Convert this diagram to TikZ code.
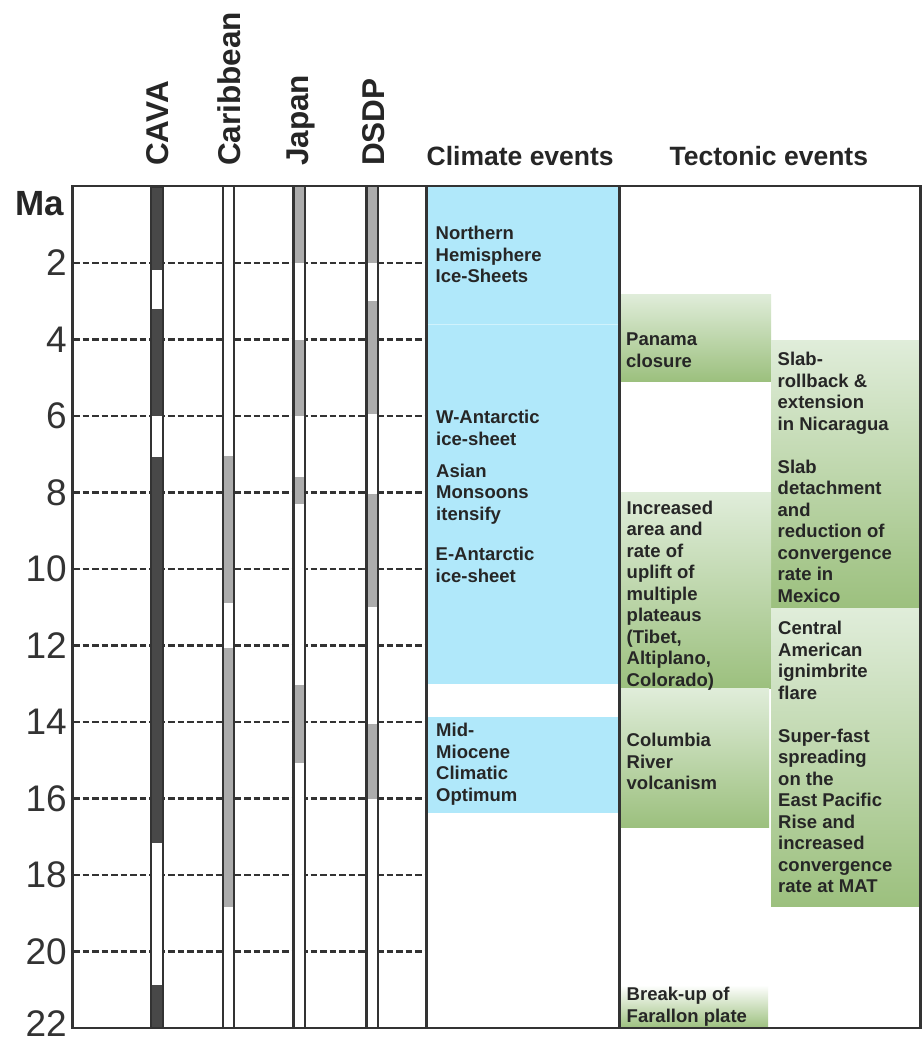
\documentclass[tikz,border=0pt]{standalone}
\usepackage{fontspec}
\setmainfont{Liberation Sans}
\definecolor{framec}{RGB}{51,51,51}
\definecolor{darkbar}{RGB}{72,72,72}
\definecolor{graybar}{RGB}{172,172,172}
\definecolor{climblue}{RGB}{176,232,250}
\definecolor{seamblue}{RGB}{208,242,252}
\definecolor{gtop}{RGB}{224,237,218}
\definecolor{gbot}{RGB}{156,192,126}
\definecolor{txt}{RGB}{38,38,38}
\newcommand\ty[1]{186.5+38.25*(#1)}
\begin{document}
\begin{tikzpicture}[x=1pt,y=-1pt,
  evt/.style={anchor=north west, inner sep=0pt, align=left, text=txt,
    font=\bfseries\fontsize{18.5}{21.5}\selectfont},
  gbox/.style={shading=axis, top color=gtop, bottom color=gbot},
  bluebox/.style={fill=climblue},
  gridline/.style={draw=framec, line width=2.5pt, dash pattern=on 6.5pt off 3pt},
  barline/.style={draw=framec, line width=2.4pt},
  framel/.style={draw=framec, line width=2.6pt},
  agelabel/.style={anchor=east, inner sep=0pt, text=framec, font=\fontsize{37}{40}\selectfont},
  colhead/.style={rotate=90, anchor=base west, inner sep=0pt, text=txt, font=\bfseries\fontsize{31.5}{34}\selectfont},
  tophead/.style={anchor=base west, inner sep=0pt, text=txt, font=\bfseries\fontsize{26.5}{30}\selectfont}]
\useasboundingbox (0,0) rectangle (922,1042);
\fill[white] (0,0) rectangle (922,1042);

% dashed time lines
\foreach \t in {2,4,...,20}
  \draw[gridline] (73,{\ty{\t}}) -- (426,{\ty{\t}});

% climate boxes
\fill[bluebox] (426,186.5) rectangle (620,324);
\fill[bluebox] (426,324) rectangle (620,684);
\draw[seamblue, line width=1pt] (427,324) -- (619,324);
\fill[bluebox] (426,716.5) rectangle (620,813);

% tectonic boxes
\path[gbox] (620,294) rectangle (771,381);
\path[gbox] (771,340) rectangle (921,608);
\path[gbox] (620,492.5) rectangle (771,688);
\path[gbox] (620,688) rectangle (769,827);
\path[gbox] (771,608) rectangle (921,906);
\path[shading=axis, top color=white, bottom color=gbot] (620,985) rectangle (768,1028);

% bars: CAVA
\fill[white] (150,186.5) rectangle (164,1028);
\foreach \a/\b in {0/2.18, 3.2/6, 7.06/17.16, 20.88/22}
  \fill[darkbar] (150,{\ty{\a}}) rectangle (164,{\ty{\b}});
\draw[barline] (151.2,186.5) rectangle (162.8,1028);
% Caribbean
\fill[white] (222,186.5) rectangle (235,1028);
\foreach \a/\b in {7.05/10.9, 12.07/18.83}
  \fill[graybar] (222,{\ty{\a}}) rectangle (235,{\ty{\b}});
\draw[barline] (223.2,186.5) -- (223.2,1028) (233.8,186.5) -- (233.8,1028);
% Japan
\fill[white] (293,186.5) rectangle (306,1028);
\foreach \a/\b in {0/2, 4/6, 7.59/8.3, 13.03/15.06}
  \fill[graybar] (293,{\ty{\a}}) rectangle (306,{\ty{\b}});
\draw[barline] (293.6,186.5) -- (293.6,1028) (304.8,186.5) -- (304.8,1028);
% DSDP
\fill[white] (366,186.5) rectangle (379,1028);
\foreach \a/\b in {0/2, 3/5.95, 8.04/11, 14.05/16}
  \fill[graybar] (366,{\ty{\a}}) rectangle (379,{\ty{\b}});
\draw[barline] (366.6,186.5) -- (366.6,1028) (377.8,186.5) -- (377.8,1028);

% frame
\draw[framel] (72.5,186) rectangle (920.7,1028);
\draw[framel] (426.5,186) -- (426.5,1028);
\draw[framel] (619.5,186) -- (619.5,1028);

% column headings
\node[colhead] (hcava) at (168,166) {CAVA};
\node[colhead] (hcarib) at (240,166) {Caribbean};
\node[colhead] (hjapan) at (308,166) {Japan};
\node[colhead] (hdsdp) at (384,166) {DSDP};
\node[tophead] (hclim) at (426.5,165.7) {Climate events};
\node[tophead] (htect) at (669.5,165.7) {Tectonic events};

% age axis
\node[anchor=base east, inner sep=0pt, text=txt, font=\bfseries\fontsize{35}{38}\selectfont] (ma) at (64.5,215) {Ma};
\foreach \t in {2,4,...,20}
  \node[agelabel] (age\t) at (67,{\ty{\t}}) {\t};
\node[agelabel] (age22) at (67,1023.5) {22};

% climate texts
\node[evt] (nh) at (435.5,226) {Northern\\Hemisphere\\Ice-Sheets};
\node[evt] (wa) at (436,410) {W-Antarctic\\ice-sheet};
\node[evt] (am) at (436,463.5) {Asian\\Monsoons\\itensify};
\node[evt] (ea) at (435.5,547) {E-Antarctic\\ice-sheet};
\node[evt] (mm) at (436,723) {Mid-\\Miocene\\Climatic\\Optimum};

% tectonic texts
\node[evt] (pan) at (626,333) {Panama\\closure};
\node[evt] (slab) at (777.5,352) {Slab-\\rollback \&\\extension\\in Nicaragua\\[21.5pt]Slab\\detachment\\and\\reduction of\\convergence\\rate in\\Mexico};
\node[evt] (upl) at (626.5,500.5) {Increased\\area and\\rate of\\uplift of\\multiple\\plateaus\\(Tibet,\\Altiplano,\\Colorado)};
\node[evt] (col) at (626.5,733) {Columbia\\River\\volcanism};
\node[evt] (cam) at (778,621) {Central\\American\\ignimbrite\\flare\\[21.5pt]Super-fast\\spreading\\on the\\East Pacific\\Rise and\\increased\\convergence\\rate at MAT};
\node[evt] (far) at (626.5,987) {Break-up of\\Farallon plate};
\end{tikzpicture}
\end{document}
